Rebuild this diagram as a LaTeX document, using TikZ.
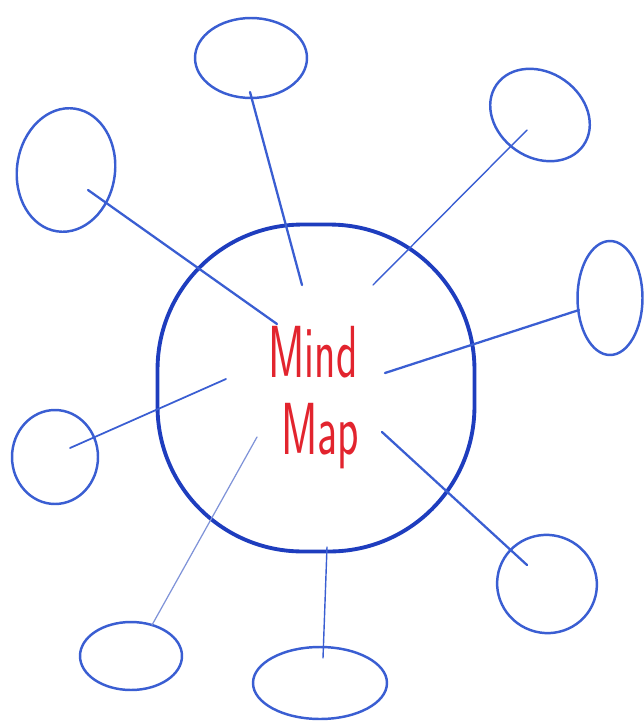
\documentclass[tikz,border=0pt]{standalone}
\usepackage{tikz}
\usetikzlibrary{shapes.geometric}
\definecolor{ink}{HTML}{1E3DBE}
\definecolor{pen}{HTML}{3A5ED2}
\definecolor{faint}{HTML}{7F93D8}
\definecolor{redink}{HTML}{E2242E}

\begin{document}
\begin{tikzpicture}[x=0.02cm, y=-0.02cm,
  hub/.style={draw=ink, line width=2.2pt, rounded corners=2.9cm, minimum width=6.34cm, minimum height=6.54cm},
  sat/.style={draw=pen, ellipse, line width=1.4pt, inner sep=0pt},
  spoke/.style={draw=pen, line width=1.3pt, line cap=round},
  thin/.style={draw=faint, line width=0.7pt, line cap=round},
  word/.style={text=redink, font=\sffamily\fontsize{42}{42}\selectfont, inner sep=0pt}
]
\useasboundingbox (0,0) rectangle (643,723);
\node[hub] (map) at (316,388) {};
\node[word] (mind) at (313,352) {\scalebox{0.6}[1]{Mind}};
\node[word] (mapw) at (320,436) {\scalebox{0.6}[1]{Map}};

\node[sat, minimum width=2.24cm, minimum height=1.6cm] (n1) at (251,58) {};
\node[sat, minimum width=1.96cm, minimum height=2.48cm, rotate=-8] (n2) at (66,170) {};
\node[sat, minimum width=2.12cm, minimum height=1.7cm, rotate=-35] (n3) at (540,115) {};
\node[sat, minimum width=1.3cm, minimum height=2.28cm] (n4) at (610,298) {};
\node[sat, minimum width=1.72cm, minimum height=1.88cm] (n5) at (55,457) {};
\node[sat, minimum width=2.0cm, minimum height=1.96cm, rotate=-20] (n6) at (547,584) {};
\node[sat, minimum width=2.04cm, minimum height=1.36cm] (n7) at (131,656) {};
\node[sat, minimum width=2.68cm, minimum height=1.44cm] (n8) at (320,683) {};

\coordinate (a1) at (250,92);  \coordinate (b1) at (302,285);
\coordinate (a2) at (88,190);  \coordinate (b2) at (277,324);
\coordinate (a3) at (527,130); \coordinate (b3) at (373,285);
\coordinate (a4) at (579,310); \coordinate (b4) at (385,373);
\coordinate (a5) at (70,448);  \coordinate (b5) at (226,379);
\coordinate (a6) at (527,565); \coordinate (b6) at (382,432);
\coordinate (a7) at (152,625); \coordinate (b7) at (257,437);
\coordinate (a8) at (323,658); \coordinate (b8) at (327,547);

\draw[spoke] (a1) -- (b1);
\draw[spoke] (a2) -- (b2);
\draw[spoke, line width=0.8pt] (a3) -- (b3);
\draw[spoke] (a4) -- (b4);
\draw[spoke, line width=1pt] (a5) -- (b5);
\draw[spoke] (a6) -- (b6);
\draw[thin] (a7) -- (b7);
\draw[spoke, line width=0.8pt] (a8) -- (b8);
\end{tikzpicture}
\end{document}
